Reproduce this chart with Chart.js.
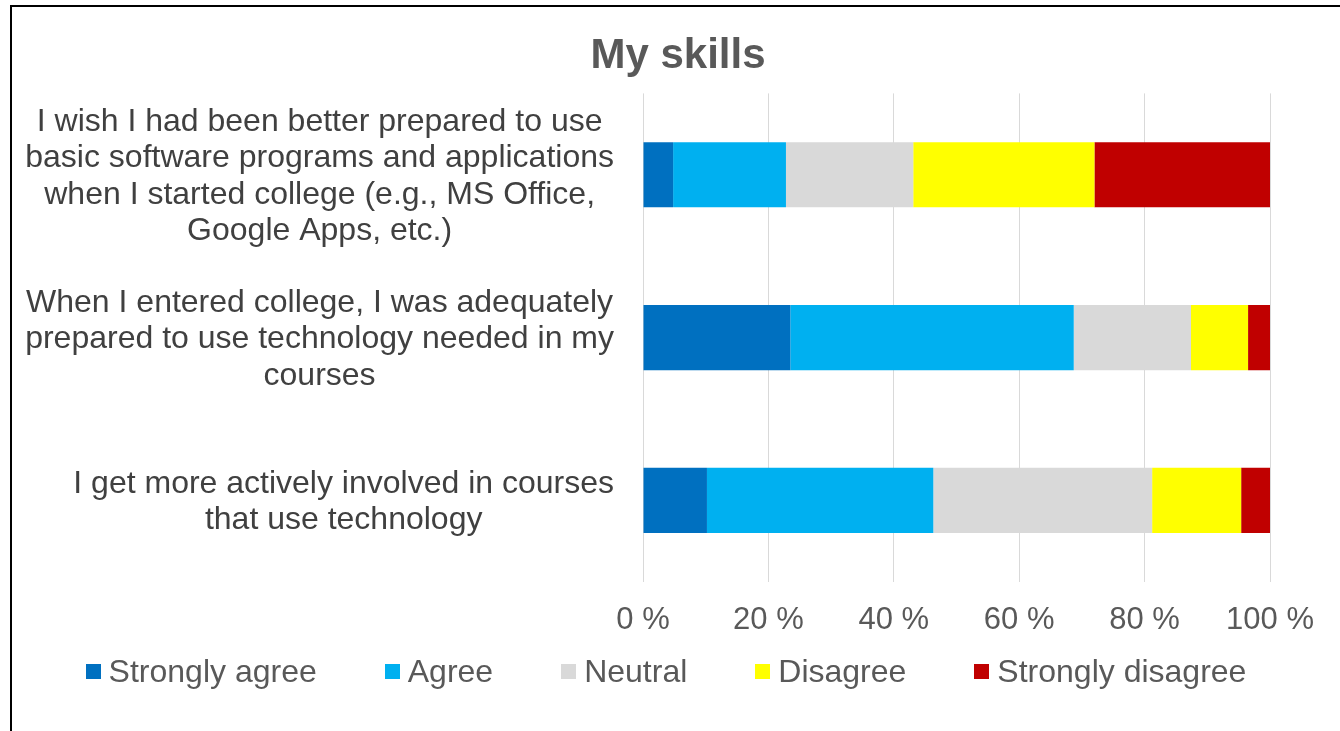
<!DOCTYPE html>
<html>
<head>
<meta charset="utf-8">
<script src="https://cdn.jsdelivr.net/npm/chart.js@4.4.0/dist/chart.umd.min.js"></script>
<style>
    html, body { margin: 0; padding: 0; background: #fff; overflow: hidden; }
    #frame { position: absolute; left: 10px; top: 5px; width: 1400px; height: 800px; border: 2px solid #000; }
    #wrap { position: absolute; left: 0; top: 0; width: 1340px; height: 731px; }
    #legend { position: absolute; left: -4px; top: 653px; width: 1340px; display: flex; justify-content: center; gap: 68px;
              font: 32px "Liberation Sans", Arial, sans-serif; color: #595959; }
    #legend .item { display: flex; align-items: center; white-space: nowrap; }
    #legend .box { width: 15px; height: 15px; margin-right: 8px; }
</style>
</head>
<body>
<div id="frame"></div>
<div id="wrap"><canvas id="skillsChart"></canvas></div>
<div id="legend"></div>

<script>
const categories = [
    ['I wish I had been better prepared to use', 'basic software programs and applications', 'when I started college (e.g., MS Office,', 'Google Apps, etc.)'],
    ['When I entered college, I was adequately', 'prepared to use technology needed in my', 'courses'],
    ['I get more actively involved in courses', 'that use technology']
];

const seriesNames = ['Strongly agree', 'Agree', 'Neutral', 'Disagree', 'Strongly disagree'];
const seriesColors = ['#0070C0', '#00B0F0', '#D9D9D9', '#FFFF00', '#C00000'];

// percent of answers per statement
const stronglyAgree = [4.8, 23.5, 10.2];
const agree = [18.0, 45.2, 36.1];
const neutral = [20.3, 18.7, 34.9];
const disagree = [28.9, 9.1, 14.2];
const stronglyDisagree = [28.0, 3.5, 4.6];

const xTicks = [0, 20, 40, 60, 80, 100];

const FONT = '"Liberation Sans", Arial, sans-serif';

// Excel-style category labels: each block right aligned, lines centred inside the block
const categoryLabels = {
    id: 'categoryLabels',
    afterDraw(chart) {
        const ctx = chart.ctx;
        const yScale = chart.scales.y;
        const right = chart.chartArea.left - 29;
        const lineHeight = 36.5;
        ctx.save();
        ctx.font = '32px ' + FONT;
        ctx.fillStyle = '#404040';
        ctx.textAlign = 'center';
        ctx.textBaseline = 'middle';
        chart.data.labels.forEach((lines, i) => {
            const widest = Math.max(...lines.map(l => ctx.measureText(l).width));
            const cx = right - widest / 2;
            const cy = yScale.getPixelForValue(i) + 2;
            lines.forEach((line, j) => {
                ctx.fillText(line, cx, cy + (j - (lines.length - 1) / 2) * lineHeight);
            });
        });
        ctx.restore();
    }
};

const seriesValues = [stronglyAgree, agree, neutral, disagree, stronglyDisagree];

const datasets = seriesNames.map((name, i) => ({
    label: name,
    data: seriesValues[i],
    backgroundColor: seriesColors[i],
    borderWidth: 0,
    barPercentage: 0.4,
    categoryPercentage: 1.0
}));

const ctx = document.getElementById('skillsChart').getContext('2d');
const chart = new Chart(ctx, {
    type: 'bar',
    data: { labels: categories, datasets: datasets },
    options: {
        indexAxis: 'y',
        responsive: true,
        maintainAspectRatio: false,
        animation: false,
        layout: { padding: { left: 16, right: 0, top: 0, bottom: 72 } },
        scales: {
            x: {
                stacked: true,
                min: 0,
                max: 100,
                afterBuildTicks: function(scale) {
                    scale.ticks = xTicks.map(v => ({ value: v }));
                },
                afterFit: function(scale) {
                    // room on the right like the original plot area
                    scale.paddingRight = 70;
                },
                grid: { color: '#d9d9d9', lineWidth: 1, drawTicks: false },
                border: { display: false },
                ticks: {
                    padding: 20,
                    color: '#595959',
                    font: { family: FONT, size: 31 },
                    callback: function(value) {
                        return value + ' %';
                    }
                }
            },
            y: {
                stacked: true,
                grid: { display: false },
                border: { display: false },
                ticks: { display: false },
                afterFit: function(scale) {
                    scale.width = 627;
                }
            }
        },
        plugins: {
            legend: { display: false },
            tooltip: { enabled: false },
            title: {
                display: true,
                text: 'My skills',
                color: '#595959',
                font: { family: FONT, size: 42, weight: 'bold' },
                padding: { top: 31, bottom: 12 }
            }
        }
    },
    plugins: [categoryLabels]
});

// Legend as HTML, built from the chart datasets
document.getElementById('legend').innerHTML = chart.data.datasets.map(ds => `
    <div class="item"><span class="box" style="background:${ds.backgroundColor}"></span>${ds.label}</div>
`).join('');
</script>
</body>
</html>
